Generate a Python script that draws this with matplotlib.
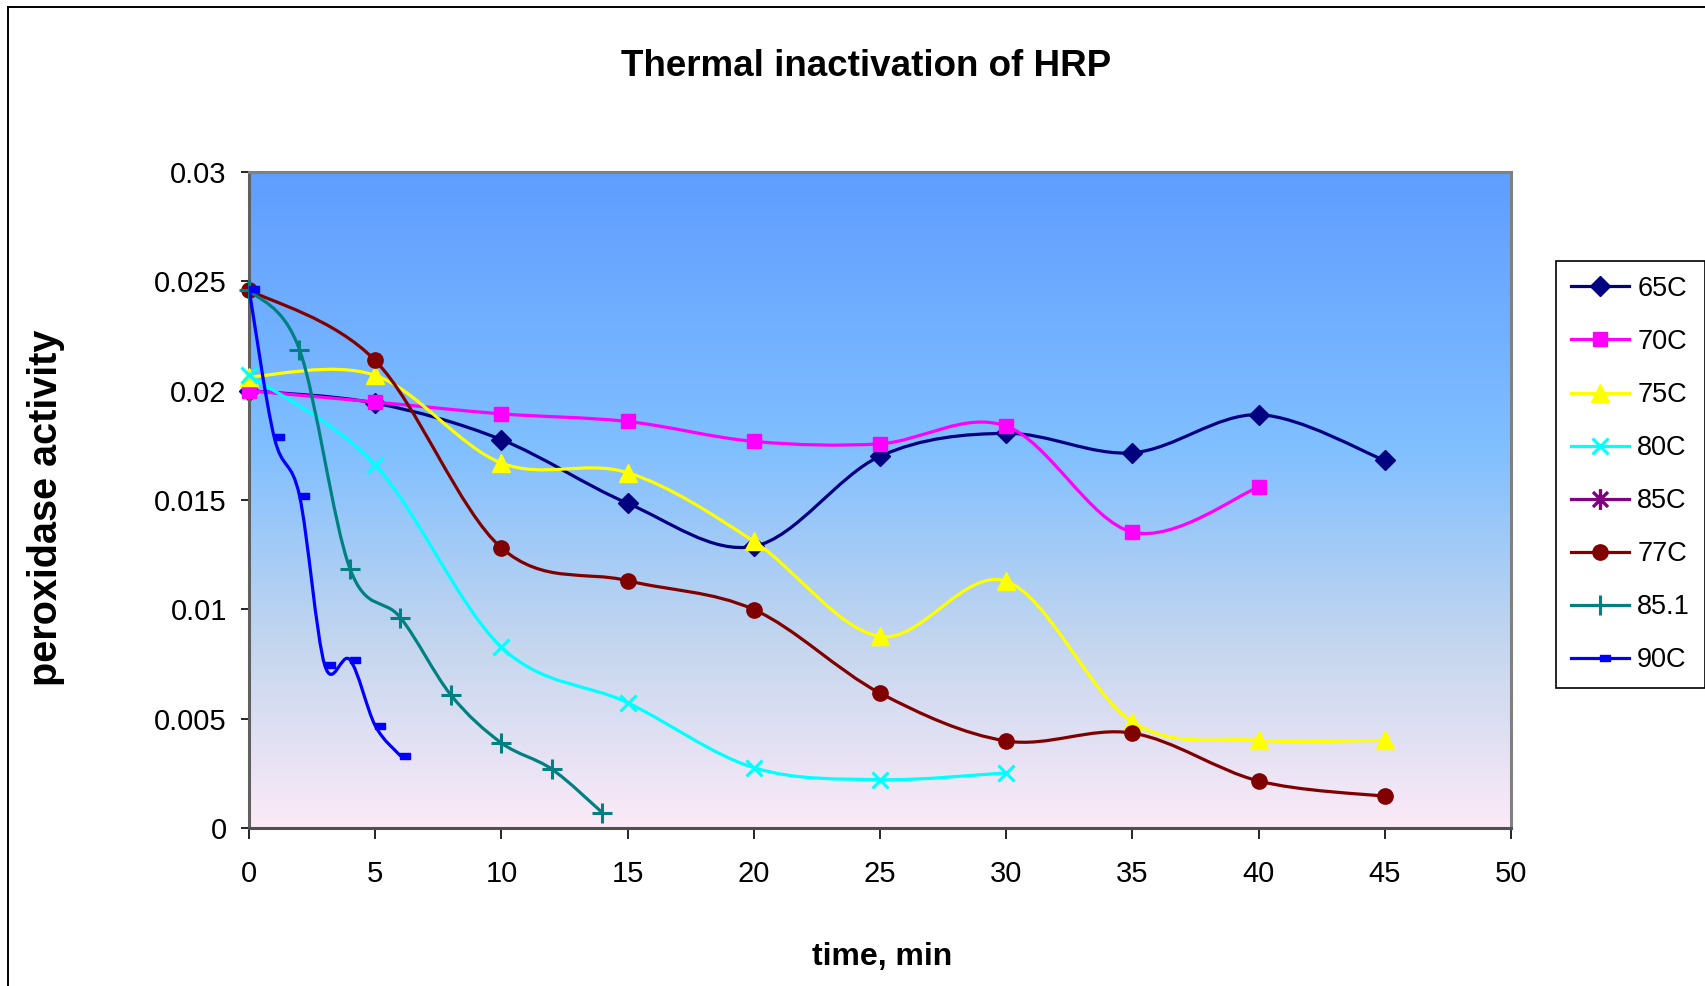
import numpy as np
import matplotlib
matplotlib.use("Agg")
import matplotlib.pyplot as plt
from matplotlib.path import Path
from matplotlib.patches import PathPatch
from matplotlib.lines import Line2D

plt.rcParams['font.family'] = ['Liberation Sans', 'DejaVu Sans']

# ---------------- data ----------------
series_names = ["65C", "70C", "75C", "80C", "85C", "77C", "85.1", "90C"]

t_65 = [0, 5, 10, 15, 20, 25, 30, 35, 40, 45]
v_65 = [0.0200, 0.01943, 0.01776, 0.01485, 0.01288, 0.01700, 0.01805, 0.01716, 0.01890, 0.01681]

t_70 = [0, 5, 10, 15, 20, 25, 30, 35, 40]
v_70 = [0.0200, 0.01948, 0.01894, 0.01859, 0.01768, 0.01757, 0.01838, 0.01353, 0.01559]

t_75 = [0, 5, 10, 15, 20, 25, 30, 35, 40, 45]
v_75 = [0.02063, 0.02070, 0.01669, 0.01625, 0.01311, 0.00876, 0.01128, 0.00485, 0.00401, 0.00401]

t_80 = [0, 5, 10, 15, 20, 25, 30]
v_80 = [0.02070, 0.01660, 0.00827, 0.00573, 0.00276, 0.00221, 0.00252]

t_85 = []
v_85 = []

t_77 = [0, 5, 10, 15, 20, 25, 30, 35, 40, 45]
v_77 = [0.02460, 0.02138, 0.01281, 0.01131, 0.00999, 0.00617, 0.00398, 0.00434, 0.00215, 0.00145]

t_851 = [0, 2, 4, 6, 8, 10, 12, 14]
v_851 = [0.02460, 0.02188, 0.01186, 0.00962, 0.00608, 0.00389, 0.00269, 0.00070]

t_90 = [0, 1, 2, 3, 4, 5, 6]
v_90 = [0.02466, 0.01786, 0.01520, 0.00745, 0.00769, 0.00468, 0.00330]

x_ticks = [0, 5, 10, 15, 20, 25, 30, 35, 40, 45, 50]
y_ticks = [0, 0.005, 0.01, 0.015, 0.02, 0.025, 0.03]
y_tick_labels = ["0", "0.005", "0.01", "0.015", "0.02", "0.025", "0.03"]

title = "Thermal inactivation of HRP"
xlabel = "time, min"
ylabel = "peroxidase activity"

# ---------------- styles ----------------
dash_path = Path([(0.0, -0.28), (1.0, -0.28), (1.0, 0.28), (0.0, 0.28), (0.0, -0.28)],
                 [Path.MOVETO, Path.LINETO, Path.LINETO, Path.LINETO, Path.CLOSEPOLY])
ast_path = Path([(0, -1), (0, 1), (-0.72, -0.72), (0.72, 0.72), (-0.72, 0.72), (0.72, -0.72)],
                [Path.MOVETO, Path.LINETO, Path.MOVETO, Path.LINETO, Path.MOVETO, Path.LINETO])

styles = {
    "65C": dict(color="#000080", marker="D", ms=10.5),
    "70C": dict(color="#FF00FF", marker="s", ms=10.5),
    "75C": dict(color="#FFFF00", marker="^", ms=13),
    "80C": dict(color="#00FFFF", marker="x", ms=12, mew=2.2),
    "85C": dict(color="#800080", marker=ast_path, ms=15, mew=2.4),
    "77C": dict(color="#800000", marker="o", ms=11),
    "85.1": dict(color="#008080", marker="+", ms=14, mew=2.2),
    "90C": dict(color="#0000FF", marker=dash_path, ms=14),
}

data = {
    "65C": (t_65, v_65), "70C": (t_70, v_70), "75C": (t_75, v_75), "80C": (t_80, v_80),
    "85C": (t_85, v_85), "77C": (t_77, v_77), "85.1": (t_851, v_851), "90C": (t_90, v_90),
}

W, H = 1706, 986
fig = plt.figure(figsize=(W / 100, H / 100), dpi=100)
fig.patch.set_facecolor("white")

ax_l, ax_r, ax_t, ax_b = 249, 1511, 172, 828
ax = fig.add_axes([ax_l / W, 1 - ax_b / H, (ax_r - ax_l) / W, (ax_b - ax_t) / H])

# gradient background (top blue -> bottom pink)
stops = [(0.0, (95, 157, 255)), (0.42, (128, 191, 255)), (0.72, (196, 214, 238)), (1.0, (252, 234, 248))]
n = 400
pos = np.linspace(0, 1, n)
grad = np.zeros((n, 1, 3))
sp = np.array([s[0] for s in stops])
for c in range(3):
    grad[:, 0, c] = np.interp(pos, sp, [s[1][c] for s in stops]) / 255.0
ax.imshow(grad, extent=[0, 50, 0, 0.03], aspect="auto", zorder=0, origin="upper")
ax.set_xlim(0, 50)
ax.set_ylim(0, 0.03)


def smooth_path(xs, ys):
    pts = np.column_stack([xs, ys]).astype(float)
    verts = [tuple(pts[0])]
    codes = [Path.MOVETO]
    m = len(pts)
    for i in range(m - 1):
        p0 = pts[i - 1] if i > 0 else pts[i]
        p1 = pts[i]
        p2 = pts[i + 1]
        p3 = pts[i + 2] if i + 2 < m else pts[i + 1]
        c1 = p1 + (p2 - p0) / 6.0
        c2 = p2 - (p3 - p1) / 6.0
        verts += [tuple(c1), tuple(c2), tuple(p2)]
        codes += [Path.CURVE4] * 3
    return Path(verts, codes)


handles = []
for z, name in enumerate(series_names):
    xs, ys = data[name]
    st = styles[name]
    lw = 2.3
    if len(xs) > 1:
        patch = PathPatch(smooth_path(xs, ys), fill=False, edgecolor=st["color"], lw=lw,
                          zorder=2 + z, capstyle="round", joinstyle="round")
        ax.add_patch(patch)
    mk = dict(marker=st["marker"], markersize=st["ms"], color=st["color"],
              markerfacecolor=st["color"], markeredgecolor=st["color"],
              markeredgewidth=st.get("mew", 1.0))
    if len(xs) > 0:
        ax.plot(xs, ys, linestyle="none", zorder=2.5 + z, clip_on=False, **mk)
    handles.append(Line2D([], [], linestyle="-", lw=lw, label=name, **mk))

# axes styling
for s in ax.spines.values():
    s.set_color("#808080")
    s.set_linewidth(2.2)
ax.spines["bottom"].set_color("#505050")
ax.spines["left"].set_color("#606060")
ax.set_xticks(x_ticks)
ax.set_xticklabels([str(v) for v in x_ticks])
ax.set_yticks(y_ticks)
ax.set_yticklabels(y_tick_labels)
ax.tick_params(axis="x", direction="out", length=8, width=1.2, color="black", labelsize=21, pad=15)
ax.tick_params(axis="y", direction="out", length=6, width=1.2, color="black", labelsize=21, pad=10)

# texts
fig.text(866 / W, 1 - 66 / H, title, ha="center", va="center", fontsize=26.5, fontweight="bold")
fig.text(882 / W, 1 - 957 / H, xlabel, ha="center", va="center", fontsize=23, fontweight="bold")
fig.text(46 / W, 1 - 508 / H, ylabel, ha="center", va="center", fontsize=28.5, fontweight="bold",
         rotation=90)

# legend
leg = fig.legend(handles=handles, loc="upper left", bbox_to_anchor=(1556 / W, 1 - 261 / H),
                 borderaxespad=0, fontsize=19.5, frameon=True, fancybox=False,
                 handlelength=2.15, handletextpad=0.3, labelspacing=1.0, borderpad=0.55,
                 edgecolor="black", framealpha=1)
leg.get_frame().set_linewidth(1.2)

# outer chart border (top and left visible)
fig.add_artist(Line2D([8 / W, 8 / W], [1 - 7 / H, -0.1], transform=fig.transFigure,
                      color="black", lw=1.4))
fig.add_artist(Line2D([8 / W, 1.1], [1 - 7 / H, 1 - 7 / H], transform=fig.transFigure,
                      color="black", lw=1.4))

fig.savefig("out.png", dpi=100, facecolor="white")
